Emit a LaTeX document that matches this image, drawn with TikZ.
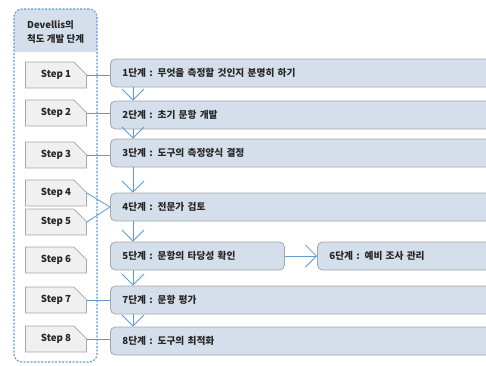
\documentclass[tikz,border=0pt]{standalone}
\usepackage{fontspec}
\setmainfont{Noto Sans CJK KR}
\usetikzlibrary{shapes.misc,arrows.meta}

\definecolor{stageblue}{HTML}{D5DFEC}
\definecolor{stepgray}{HTML}{F0F0F0}
\definecolor{edgegray}{HTML}{A6A6A6}
\definecolor{lineblue}{HTML}{5B9BD5}
\definecolor{inkgray}{HTML}{262626}

\tikzstyle{stepbox}=[chamfered rectangle,chamfered rectangle corners=north east,chamfered rectangle sep=8pt,
	fill=stepgray,draw=edgegray,line width=0.7pt,minimum width=61pt,minimum height=26pt,inner sep=0pt,
	font=\fontsize{9.7}{11}\selectfont\bfseries,text=inkgray]
\tikzstyle{stage}=[rectangle,rounded corners=5pt,fill=stageblue,draw=edgegray,line width=0.8pt,anchor=west,
	minimum height=28pt,inner xsep=12pt,align=left,font=\fontsize{9.7}{11}\selectfont\bfseries,text=inkgray]
\tikzstyle{link}=[draw=lineblue,line width=0.8pt]
\tikzstyle{flow}=[link,-{Straight Barb[length=11pt,width=22pt]}]
\tikzstyle{frame}=[draw=lineblue,line width=1.1pt,dash pattern=on 2pt off 1.5pt,rounded corners=8pt,inner sep=0pt]

\begin{document}
\begin{tikzpicture}[x=1pt,y=-1pt]
	\clip (0,0) rectangle (486,365);
	%The dotted frame with its header
	\fill[stageblue] (14,52) [rounded corners=8pt] -- (14,9) -- (97,9) [sharp corners] -- (97,52) -- cycle;
	\node[frame,minimum width=83pt,minimum height=353pt] (frame) at (55.5,185.5) {};
	\node[anchor=west,align=left,inner sep=0pt,font=\fontsize{9.5}{14.5}\selectfont\bfseries,text=inkgray]
		(head) at (27,32) {Devellis의\\척도 개발 단계};
	%The step labels
	\foreach \pos/\name in {{(56,75)/1},	{(56,113)/2},	{(56,155)/3},	{(56,193)/4},
							{(56,222)/5},	{(56,260)/6},	{(56,300)/7},	{(56,339)/8}}
		\node[stepbox] (s\name) at \pos {Step \name};
	%The stages
	\foreach \y/\name/\txt in {73/1/{무엇을 측정할 것인지 분명히 하기},	115/2/{초기 문항 개발},
							153/3/{도구의 측정양식 결정},	207/4/{전문가 검토},
							300/7/{문항 평가},	341/8/{도구의 최적화}}
		\node[stage,text width=380pt] (b\name) at (110,\y) {\name{}단계 : \txt};
	\node[stage,text width=150pt] (b5) at (110,256) {5단계 : 문항의 타당성 확인};
	\node[stage,text width=180pt] (b6) at (317,256) {6단계 : 예비 조사 관리};
	%Connectors
	\foreach \a/\b in {1/2,2/3,3/4,4/5,5/7,7/8}
		\draw[flow] ([xshift=23pt]b\a.south west) -- ([xshift=23pt]b\b.north west);
	\draw[flow] (b5) -- (b6);
	\foreach \n in {1,2,3,7,8}
		\draw[link] (s\n.east) -- (s\n.east -| b\n.west);
	\draw[link] (s4.east) -- (b4.west);
	\draw[link] (s5.east) -- (b4.west);
\end{tikzpicture}
\end{document}
